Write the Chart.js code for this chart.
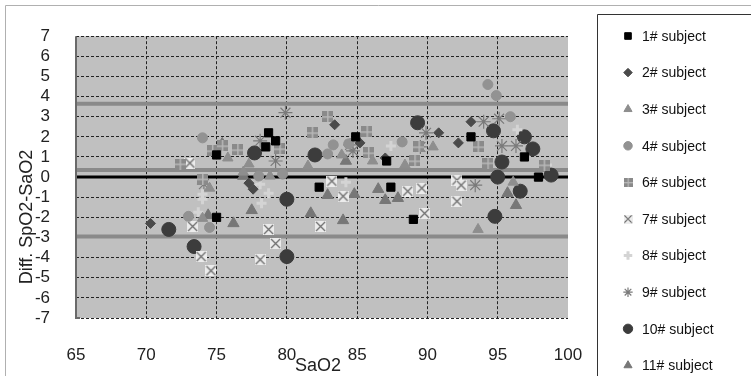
<!DOCTYPE html>
<html>
<head>
<meta charset="UTF-8">
<title>SpO2 - SaO2</title>
<script src="https://cdn.jsdelivr.net/npm/chart.js"></script>
<style>
  body { margin: 0; background: #fff; }
  #wrap { width: 751px; height: 376px; }
</style>
</head>
<body>
<div id="wrap"><canvas id="diffChart" width="751" height="376"></canvas></div>
<script>
// data: [SaO2, SpO2-SaO2]
const subj1 = [[75,1.1],[75,-2],[78.5,1.5],[78.7,2.2],[79.2,1.8],[82.3,-0.5],[84.9,2.0],[87.1,0.8],[87.4,-0.5],[89,-2.1],[93.1,2.0],[96.9,1.0],[97.9,0]];
const subj2 = [[70.3,-2.3],[77.3,-0.3],[77.6,-0.6],[83.4,2.6],[85.2,1.7],[87.0,0.95],[90.8,2.2],[92.2,1.7],[93.1,2.75]];
const subj3 = [[74.5,-0.55],[74.0,-2.05],[75.8,0.95],[76.9,0.25],[77.3,0.65],[78.8,0.05],[81.5,0.55],[83.9,1.1],[86.1,0.8],[88.4,0.6],[90.4,1.5],[96.1,-0.25],[93.6,-2.6]];
const subj4 = [[73,-1.95],[74,1.95],[74.5,-2.5],[78,0.05],[79.7,0.15],[82.9,1.15],[83.3,1.6],[84.4,1.65],[88.2,1.75],[94.3,4.6],[94.9,4.05],[95.9,3.0]];
const subj6 = [[72.4,0.65],[74.0,-0.1],[74.7,1.3],[75.4,1.55],[76.5,1.35],[79.5,1.4],[81.8,2.2],[82.9,3.0],[85.7,2.25],[85.8,1.2],[89.1,0.8],[89.4,1.5],[93.6,1.5],[94.3,0.7],[98.3,0.6]];
const subj7 = [[73.1,0.7],[73.3,-2.45],[73.9,-3.95],[74.6,-4.65],[78.1,-4.1],[78.7,-2.6],[79.2,-3.3],[82.4,-2.45],[83.2,-0.2],[84,-0.95],[88.6,-0.7],[89.6,-0.55],[89.8,-1.8],[92.1,-0.15],[92.1,-1.2],[92.4,-0.4]];
const subj8 = [[73.7,-1.75],[74,-1.1],[74,-0.85],[78.1,-0.35],[78.2,-1.3],[78.7,-0.8],[84.2,-0.25],[87.4,1.55],[96.4,2.35],[98.5,0.6]];
const subj9 = [[74.1,-0.35],[78.1,1.8],[79.2,0.8],[79.9,3.2],[84.5,1.6],[84.7,1.3],[89.5,1.5],[89.9,2.2],[93.4,-0.4],[94.0,2.75],[95.1,2.9],[95.3,1.55],[96.3,1.55]];
const subj10 = [[71.6,-2.6],[73.4,-3.45],[77.7,1.2],[80,-1.1],[80,-3.95],[82,1.1],[89.3,2.7],[94.7,2.3],[95,0],[95.3,0.75],[94.8,-1.95],[96.6,-0.7],[96.9,2.0],[97.5,1.4],[98.8,0.1]];
const subj11 = [[75.4,1.65],[76.2,-2.3],[77.5,-1.65],[76.9,0.05],[81.7,-1.8],[82.9,-0.9],[84.8,-0.85],[84.2,0.8],[86.5,-0.6],[87.0,-1.15],[87.9,-1.05],[84.0,-2.15],[95.7,-0.8],[96.3,-1.4],[74.4,-1.9]];

const grayLines = [3.65, 0.35, -2.95];   // upper limit, mean, lower limit
const zeroLine = 0;
const xRange = [65, 100];

function pts(arr) { return arr.map(p => ({ x: p[0], y: p[1] })); }

// small canvas markers for the styles chart.js doesn't have
function markGrid() {
  const c = document.createElement('canvas'); c.width = 11; c.height = 11;
  const g = c.getContext('2d');
  g.fillStyle = '#8a8a8a'; g.fillRect(0, 0, 11, 11);
  g.fillStyle = '#b8b8b8'; g.fillRect(5, 0, 1.5, 11); g.fillRect(0, 5, 11, 1.5);
  return c;
}
function markBoxX() {
  const c = document.createElement('canvas'); c.width = 11; c.height = 11;
  const g = c.getContext('2d');
  g.fillStyle = '#ececec'; g.fillRect(0, 0, 11, 11);
  g.strokeStyle = '#6e6e6e'; g.lineWidth = 1.3;
  g.beginPath(); g.moveTo(1, 1); g.lineTo(10, 10); g.moveTo(10, 1); g.lineTo(1, 10); g.stroke();
  return c;
}

const series = [
  { label: '1# subject', data: subj1, pointStyle: 'rect', radius: 5.8, bg: '#000', bc: '#000' },
  { label: '2# subject', data: subj2, pointStyle: 'rectRot', radius: 5, bg: '#4a4a4a', bc: '#4a4a4a' },
  { label: '3# subject', data: subj3, pointStyle: 'triangle', radius: 6, bg: '#8e8e8e', bc: '#8e8e8e' },
  { label: '4# subject', data: subj4, pointStyle: 'circle', radius: 5, bg: '#929292', bc: '#929292' },
  { label: '6# subject', data: subj6, pointStyle: markGrid(), radius: 5, bg: '#8a8a8a', bc: '#8a8a8a' },
  { label: '7# subject', data: subj7, pointStyle: markBoxX(), radius: 5, bg: '#ececec', bc: '#6e6e6e' },
  { label: '8# subject', data: subj8, pointStyle: 'cross', radius: 5, bg: '#d4d4d4', bc: '#d4d4d4', bw: 3 },
  { label: '9# subject', data: subj9, pointStyle: 'star', radius: 7, bg: '#7a7a7a', bc: '#7a7a7a', bw: 1.2 },
  { label: '10# subject', data: subj10, pointStyle: 'circle', radius: 7, bg: '#3c3c3c', bc: '#3c3c3c' },
  { label: '11# subject', data: subj11, pointStyle: 'triangle', radius: 6.5, bg: '#777', bc: '#777' }
];

const datasets = series.map(s => ({
  label: s.label,
  data: pts(s.data),
  pointStyle: s.pointStyle,
  pointRadius: s.radius,
  pointBackgroundColor: s.bg,
  pointBorderColor: s.bc,
  pointBorderWidth: s.bw || 1,
  order: 1
}));

grayLines.forEach(v => datasets.push({
  label: 'limit', type: 'line', data: [{ x: xRange[0], y: v }, { x: xRange[1], y: v }],
  borderColor: '#8a8a8a', borderWidth: 4, pointRadius: 0, order: 5
}));
datasets.push({
  label: 'zero', type: 'line', data: [{ x: xRange[0], y: zeroLine }, { x: xRange[1], y: zeroLine }],
  borderColor: '#000', borderWidth: 3, pointRadius: 0, order: 4
});

const FONT = 'Arial, "Liberation Sans", sans-serif';

const decor = {
  id: 'decor',
  beforeDraw(chart) {
    const { ctx, chartArea: a } = chart;
    ctx.save();
    // outer frame
    ctx.strokeStyle = '#b0b0b0'; ctx.lineWidth = 1;
    ctx.beginPath(); ctx.moveTo(5.5, 376); ctx.lineTo(5.5, 5.5); ctx.lineTo(751, 5.5); ctx.stroke();
    // plot background
    ctx.fillStyle = '#c0c0c0';
    ctx.fillRect(a.left, a.top, a.right - a.left, a.bottom - a.top);
    ctx.restore();
  },
  afterDraw(chart) {
    const { ctx, chartArea: a } = chart;
    ctx.save();
    // left edge of plot
    ctx.strokeStyle = '#6a6a6a'; ctx.lineWidth = 2;
    ctx.beginPath(); ctx.moveTo(a.left, a.top); ctx.lineTo(a.left, a.bottom); ctx.lineTo(a.left + 4, a.bottom); ctx.stroke();

    // axis titles
    ctx.fillStyle = '#222';
    ctx.font = '18px ' + FONT;
    ctx.textAlign = 'center'; ctx.textBaseline = 'middle';
    ctx.fillText('SaO2', 318, 366);
    ctx.translate(27, 217); ctx.rotate(-Math.PI / 2);
    ctx.fillText('Diff. SpO2-SaO2', 0, 0);
    ctx.setTransform(1, 0, 0, 1, 0, 0);

    // legend box
    ctx.strokeStyle = '#333'; ctx.lineWidth = 1;
    ctx.beginPath(); ctx.moveTo(597.5, 376); ctx.lineTo(597.5, 14.5); ctx.lineTo(751, 14.5); ctx.stroke();

    const hp = Chart.helpers;
    ctx.font = '14px ' + FONT;
    ctx.textAlign = 'left';
    series.forEach((s, i) => {
      const y = 36 + i * 36.6;
      const x = 628;
      if (typeof s.pointStyle === 'string') {
        ctx.fillStyle = s.bg; ctx.strokeStyle = s.bc; ctx.lineWidth = s.bw || 1;
        if (hp && hp.drawPoint) {
          hp.drawPoint(ctx, { pointStyle: s.pointStyle, radius: Math.min(s.radius, 5.5) * 0.85, borderWidth: s.bw || 1, rotation: 0 }, x, y);
        }
      } else {
        ctx.drawImage(s.pointStyle, x - 4.5, y - 4.5, 9, 9);
      }
      ctx.fillStyle = '#111';
      ctx.fillText(s.label, 642, y + 1);
    });
    ctx.restore();
  }
};

new Chart(document.getElementById('diffChart'), {
  type: 'scatter',
  data: { datasets },
  options: {
    responsive: false,
    animation: false,
    layout: { padding: { top: 23, right: 183, left: 0, bottom: 0 } },
    plugins: { legend: { display: false }, tooltip: { enabled: false } },
    scales: {
      x: {
        min: xRange[0], max: xRange[1],
        afterFit: s => { s.height = 58; },
        ticks: { stepSize: 5, autoSkip: false, maxRotation: 0, padding: 27, color: '#222', font: { size: 17, family: FONT } },
        grid: {
          color: c => (c.tick && (c.tick.value === 65 || c.tick.value === 100)) ? 'rgba(0,0,0,0)' : '#222',
          lineWidth: 1, drawTicks: false
        },
        border: { display: false, dash: [3, 2] }
      },
      y: {
        min: -7, max: 7,
        afterFit: s => { s.width = 76; },
        ticks: { stepSize: 1, autoSkip: false, padding: 26, color: '#222', font: { size: 17, family: FONT } },
        grid: { color: '#222', lineWidth: 1, drawTicks: false },
        border: { display: false, dash: [3, 2] }
      }
    }
  },
  plugins: [decor]
});
</script>
</body>
</html>
